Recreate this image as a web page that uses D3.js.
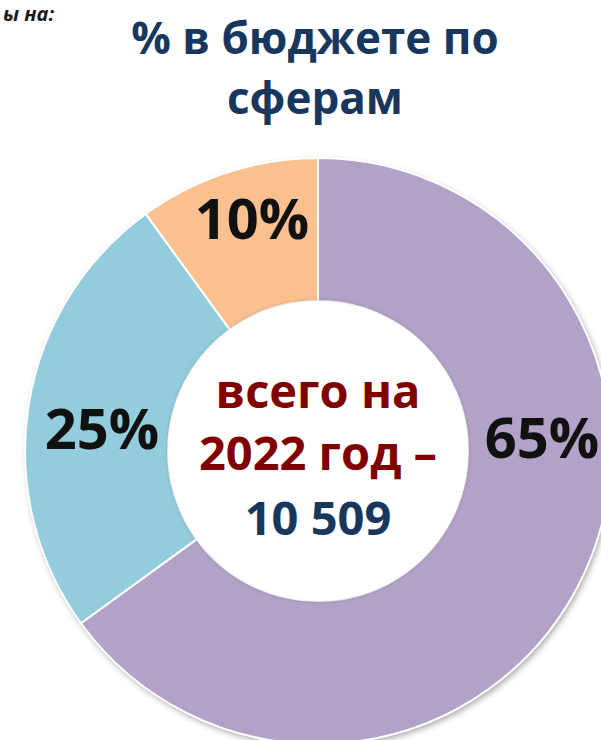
<!DOCTYPE html>
<html><head><meta charset="utf-8">
<script src="https://cdn.jsdelivr.net/npm/d3@7"></script>
<style>body{margin:0;background:#fff}svg{display:block}</style>
</head><body>
<script>
const categories = ["A", "B", "C"];
const values = [65, 25, 10];
const labels = ["65%", "25%", "10%"];
const colors = ["#B3A2C7", "#93CDDD", "#FAC090"];
const titleLines = ["% в бюджете по", "сферам"];
const centerLines = ["всего на", "2022 год –", "10 509"];

const W = 601, H = 740;
const svg = d3.select("body").append("svg").attr("width", W).attr("height", H)
  .style("font-family", "'Open Sans', sans-serif");

const defs = svg.append("defs");
const f = defs.append("filter").attr("id", "sh").attr("x", "-20%").attr("y", "-20%").attr("width", "140%").attr("height", "140%");
f.append("feDropShadow").attr("dx", 2).attr("dy", 3).attr("stdDeviation", 3).attr("flood-color", "#000").attr("flood-opacity", 0.35);
const f2 = defs.append("filter").attr("id", "ish").attr("x", "-20%").attr("y", "-20%").attr("width", "140%").attr("height", "140%");
f2.append("feDropShadow").attr("dx", 0).attr("dy", 0).attr("stdDeviation", 2).attr("flood-color", "#000").attr("flood-opacity", 0.25);

svg.append("text").attr("x", 3).attr("y", 21).attr("text-anchor", "start")
  .attr("font-size", 20).attr("font-weight", "bold").attr("font-style", "italic").attr("fill", "#1a1a1a")
  .text("ы на:");

svg.append("g").selectAll("text").data(titleLines).join("text")
  .attr("x", 315).attr("y", (d, i) => 54 + i * 60).attr("text-anchor", "middle")
  .attr("font-size", 44).attr("font-weight", "bold").attr("fill", "#17375E").text(d => d);

const cx = 318, cy = 451, R = 293, r = 150;
const g = svg.append("g").attr("transform", `translate(${cx},${cy})`);
const pie = d3.pie().sort(null).value(d => d);
const arcs = pie(values);
const arc = d3.arc().innerRadius(r).outerRadius(R);

g.append("circle").attr("r", R).attr("fill", "#fff").attr("filter", "url(#sh)");
g.selectAll("path").data(arcs).join("path")
  .attr("d", arc).attr("fill", (d, i) => colors[i]).attr("stroke", "#fff").attr("stroke-width", 2);
g.append("circle").attr("r", r).attr("fill", "#fff").attr("filter", "url(#ish)");
g.append("circle").attr("r", r - 1).attr("fill", "#fff");

const labelPos = [[224, -15], [-216, -24], [-66, -234]];
g.selectAll("text.lab").data(arcs).join("text").attr("class", "lab")
  .attr("x", (d, i) => labelPos[i][0]).attr("y", (d, i) => labelPos[i][1])
  .attr("text-anchor", "middle").attr("dominant-baseline", "central")
  .attr("font-size", 56).attr("font-weight", "bold").attr("fill", "#111")
  .text((d, i) => labels[i]);

g.selectAll("text.ctr").data(centerLines).join("text").attr("class", "ctr")
  .attr("x", 0).attr("y", (d, i) => [-43, 19, 84][i]).attr("text-anchor", "middle")
  .attr("font-size", 47).attr("font-weight", "bold")
  .attr("fill", (d, i) => i < 2 ? "#800000" : "#17375E").text(d => d);
</script>
</body></html>
